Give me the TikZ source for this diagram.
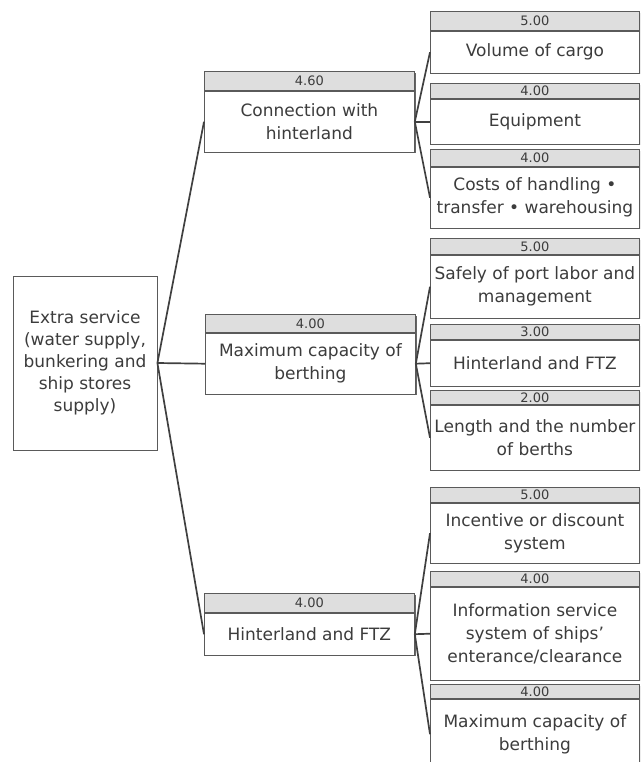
\documentclass[tikz,border=0pt]{standalone}
\usepackage{fontspec}
\setmainfont{DejaVu Sans}
\usepackage{xcolor}
\usepackage{tikz}
\usetikzlibrary{shadows}

\definecolor{hdrgray}{HTML}{DEDEDE}
\definecolor{edgegray}{HTML}{5A5A5A}
\definecolor{txtgray}{HTML}{3C3C3C}

\tikzset{
    body/.style={draw=edgegray, line width=0.8pt, fill=white, inner sep=0pt,
        align=center, text=txtgray, font=\fontsize{17}{23}\selectfont,
        drop shadow={shadow xshift=1.2pt, shadow yshift=-1.2pt, fill=black!60, opacity=1}},
    hdr/.style={draw=edgegray, line width=0.8pt, fill=hdrgray, inner sep=0pt,
        text=txtgray, font=\fontsize{13}{13}\selectfont,
        drop shadow={shadow xshift=1.2pt, shadow yshift=-1.2pt, fill=black!60, opacity=1}},
    link/.style={draw=black!75, line width=1.7pt}
}

\begin{document}
\begin{tikzpicture}[x=1pt, y=-1pt]

        \clip (0,0) rectangle (640,762);

        % Box with its rating on top
        \newcommand{\ratedbox}[8]{
            \node[hdr, minimum width=#4, minimum height=#5, anchor=north west] (#1h) at (#2,#3) {#7};
            \node[body, minimum width=#4, minimum height=#6, anchor=north] (#1) at (#1h.south) {#8};
        }

        % Goal
        \node[body, minimum width=144, minimum height=174, font=\fontsize{17}{22}\selectfont] (root) at (85,363)
            {Extra service\\(water supply,\\bunkering and\\ship stores\\supply)};

        % Criteria
        \ratedbox{conn}{204}{71}{210}{19}{61}{4.60}{Connection with\\hinterland}
        \ratedbox{berth}{205}{314}{210}{18}{61}{4.00}{Maximum capacity of\\berthing}
        \ratedbox{ftz}{204}{593}{210}{19}{42}{4.00}{Hinterland and FTZ}

        % Sub-criteria
        \ratedbox{vol}{430}{11}{209}{19}{42}{5.00}{Volume of cargo}
        \ratedbox{equip}{430}{83}{209}{15}{45}{4.00}{Equipment}
        \ratedbox{cost}{430}{149}{209}{17}{61}{4.00}{Costs of handling •\\transfer • warehousing}

        \ratedbox{safe}{430}{238}{209}{16}{63}{5.00}{Safely of port labor and\\management}
        \ratedbox{hint}{430}{324}{209}{15}{46}{3.00}{Hinterland and FTZ}
        \ratedbox{len}{430}{390}{209}{14}{65}{2.00}{Length and the number\\of berths}

        \ratedbox{disc}{430}{487}{209}{15}{60}{5.00}{Incentive or discount\\system}
        \ratedbox{info}{430}{571}{209}{15}{93}{4.00}{Information service\\system of ships'\\enterance/clearance}
        \ratedbox{maxb}{430}{684}{209}{14}{70}{4.00}{Maximum capacity of\\berthing}

        % Links
        \foreach \crit in {conn,berth,ftz}
            \draw[link] (root.east) -- (\crit.west);

        \foreach \crit/\a/\b/\c in {conn/vol/equip/cost, berth/safe/hint/len, ftz/disc/info/maxb}{
            \draw[link] (\crit.east) -- (\a.west);
            \draw[link] (\crit.east) -- (\b.west);
            \draw[link] (\crit.east) -- (\c.west);
        }

\end{tikzpicture}
\end{document}
